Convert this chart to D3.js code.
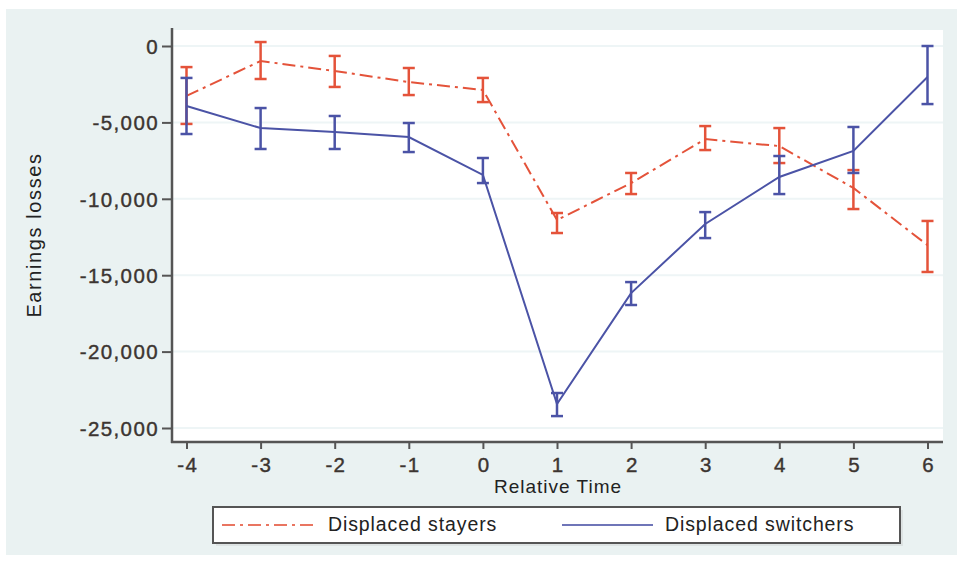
<!DOCTYPE html>
<html>
<head>
<meta charset="utf-8">
<script src="https://cdn.jsdelivr.net/npm/d3@7"></script>
<style>
  body { margin: 0; background: #fff; }
  svg { display: block; font-family: Arial, "Liberation Sans", sans-serif; }
</style>
</head>
<body>
<div id="container"></div>
<script>
const width = 963;
const height = 564;

// DATA
const times = [-4, -3, -2, -1, 0, 1, 2, 3, 4, 5, 6];
const stayersMean = [-3270, -980, -1640, -2360, -2880, -11390, -8970, -6090, -6550, -9290, -13030];
const stayersHi = [-1380, 260, -650, -1440, -2090, -10930, -8310, -5240, -5370, -8120, -11450];
const stayersLo = [-5100, -2160, -2680, -3210, -3670, -12240, -9690, -6810, -7660, -10670, -14790];
const switchersMean = [-3930, -5370, -5630, -5960, -8440, -23430, -16170, -11650, -8570, -6870, -2030];
const switchersHi = [-2090, -4060, -4580, -5040, -7330, -22710, -15450, -10870, -7200, -5300, 0];
const switchersLo = [-5760, -6740, -6740, -6940, -8970, -24220, -16950, -12570, -9690, -8310, -3800];
const yTicks = [0, -5000, -10000, -15000, -20000, -25000];
const seriesNames = ["Displaced stayers", "Displaced switchers"];

const colors = { stayers: "#e4533a", switchers: "#4b53a6" };
const dashDot = "13,5,3,5";

const svg = d3.select("div#container").append("svg")
    .attr("width", width)
    .attr("height", height);

// BACKGROUND
svg.append("rect")
    .attr("x", 6).attr("y", 9)
    .attr("width", 951).attr("height", 546)
    .attr("fill", "#eaf2f2");

svg.append("rect")
    .attr("x", 172).attr("y", 30)
    .attr("width", 771).attr("height", 412)
    .attr("fill", "#ffffff");

// SCALES
const xScale = d3.scaleLinear().domain([-4, 6]).range([186.5, 927.5]);
const yScale = d3.scaleLinear().domain([-25000, 0]).range([428, 46]);

// GRID
svg.append("g")
    .selectAll("line")
    .data(yTicks)
    .enter()
    .append("line")
    .attr("x1", 173).attr("x2", 943)
    .attr("y1", d => yScale(d)).attr("y2", d => yScale(d))
    .attr("stroke", "#eef5f6")
    .attr("stroke-width", 2);

// AXES
const fmt = d3.format(",d");
const yaxis = d3.axisLeft(yScale)
    .tickValues(yTicks)
    .tickSize(10)
    .tickPadding(4)
    .tickFormat(d => fmt(d).replace("\u2212", "-"));

const xaxis = d3.axisBottom(xScale)
    .tickValues(times)
    .tickSize(7)
    .tickPadding(8)
    .tickFormat(d => String(d));

const gy = svg.append("g")
    .attr("transform", "translate(172,0)")
    .call(yaxis);
gy.select(".domain").remove();

const gx = svg.append("g")
    .attr("transform", "translate(0,442)")
    .call(xaxis);
gx.select(".domain").remove();

[gx, gy].forEach(function (g) {
    g.selectAll(".tick line").attr("stroke", "#555").attr("stroke-width", 2);
    g.selectAll(".tick text")
        .attr("fill", "#3c3531")
        .attr("stroke", "#3c3531")
        .attr("stroke-width", 0.4)
        .style("font-size", "20.5px")
        .style("letter-spacing", "1.4px")
        .style("font-family", "Arial, 'Liberation Sans', sans-serif");
});
gy.selectAll(".tick text").attr("dy", "0.36em").attr("x", -13);
gx.selectAll(".tick text").attr("dx", "0.7px");

// axis lines
svg.append("line")
    .attr("x1", 172).attr("x2", 172)
    .attr("y1", 28).attr("y2", 443)
    .attr("stroke", "#555").attr("stroke-width", 2.5);
svg.append("line")
    .attr("x1", 171).attr("x2", 943)
    .attr("y1", 442).attr("y2", 442)
    .attr("stroke", "#555").attr("stroke-width", 2.5);

// AXIS TITLES
svg.append("text")
    .attr("x", 558).attr("y", 493)
    .attr("text-anchor", "middle")
    .style("font-size", "19px")
    .style("letter-spacing", "1px")
    .attr("fill", "#222")
    .text("Relative Time");

svg.append("text")
    .attr("transform", "translate(41,235) rotate(-90)")
    .attr("text-anchor", "middle")
    .style("font-size", "20px")
    .style("letter-spacing", "1.6px")
    .attr("fill", "#222")
    .text("Earnings losses");

// SERIES
const series = [
    { id: "stayers", mean: stayersMean, hi: stayersHi, lo: stayersLo, dash: dashDot },
    { id: "switchers", mean: switchersMean, hi: switchersHi, lo: switchersLo, dash: null }
];

const line = d3.line()
    .x(d => xScale(d.t))
    .y(d => yScale(d.v));

series.forEach(function (s) {
    const pts = times.map((t, i) => ({ t: t, v: s.mean[i], hi: s.hi[i], lo: s.lo[i] }));
    const g = svg.append("g");

    g.append("path")
        .attr("d", line(pts))
        .attr("fill", "none")
        .attr("stroke", colors[s.id])
        .attr("stroke-width", 2)
        .attr("stroke-dasharray", s.dash);

    const bars = g.selectAll(".err")
        .data(pts)
        .enter()
        .append("g");

    bars.append("line")
        .attr("x1", d => xScale(d.t)).attr("x2", d => xScale(d.t))
        .attr("y1", d => yScale(d.hi)).attr("y2", d => yScale(d.lo))
        .attr("stroke", colors[s.id]).attr("stroke-width", 2.5);

    ["hi", "lo"].forEach(function (k) {
        bars.append("line")
            .attr("x1", d => xScale(d.t) - 6).attr("x2", d => xScale(d.t) + 6)
            .attr("y1", d => yScale(d[k])).attr("y2", d => yScale(d[k]))
            .attr("stroke", colors[s.id]).attr("stroke-width", 2.5);
    });
});

// LEGEND
const legend = svg.append("g");
legend.append("rect")
    .attr("x", 216).attr("y", 510)
    .attr("width", 687).attr("height", 36)
    .attr("fill", "#dde3e3");
legend.append("rect")
    .attr("x", 213).attr("y", 507)
    .attr("width", 687).attr("height", 36)
    .attr("fill", "#ffffff")
    .attr("stroke", "#555")
    .attr("stroke-width", 2);

const legendItems = [
    { name: seriesNames[0], color: colors.stayers, dash: dashDot, x1: 222, x2: 316, tx: 328 },
    { name: seriesNames[1], color: colors.switchers, dash: null, x1: 562, x2: 653, tx: 665 }
];

legendItems.forEach(function (d) {
    legend.append("line")
        .attr("x1", d.x1).attr("x2", d.x2)
        .attr("y1", 525).attr("y2", 525)
        .attr("stroke", d.color)
        .attr("stroke-opacity", 0.8)
        .attr("stroke-width", 2)
        .attr("stroke-dasharray", d.dash);
    legend.append("text")
        .attr("x", d.tx).attr("y", 531)
        .style("font-size", "19.5px")
        .style("letter-spacing", "0.9px")
        .attr("fill", "#222")
        .text(d.name);
});
</script>
</body>
</html>
